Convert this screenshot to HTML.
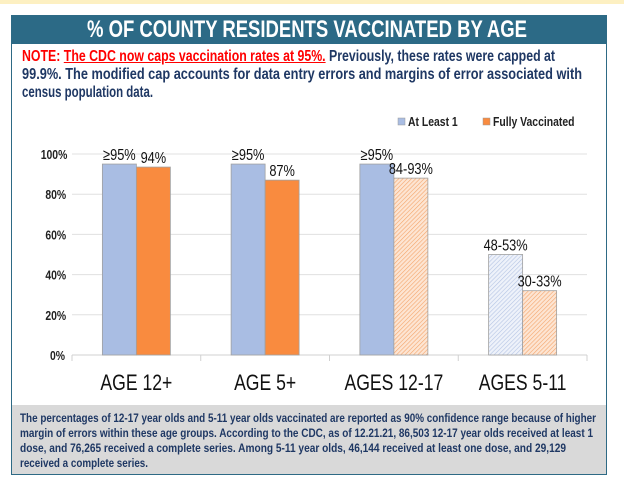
<!DOCTYPE html>
<html><head><meta charset="utf-8"><style>
body{margin:0;width:624px;height:488px;background:#fff;overflow:hidden;position:relative;font-family:"Liberation Sans",sans-serif}
#top{position:absolute;left:0;top:0;width:624px;height:4px;background:#fdf0c2}
#box{position:absolute;left:11px;top:15px;width:596px;height:460px;border:1px solid #2e6a85;box-sizing:border-box}
#title{position:absolute;left:0;top:0;width:594px;height:28px;background:#2c6a86;color:#fff;font-weight:bold;font-size:24px;line-height:28px}
.ln{position:absolute;white-space:nowrap;transform-origin:0 0}
#note{position:absolute;left:0;top:0;width:594px;font-size:16px;font-weight:bold;color:#1f3864}
#note .r{color:#ff0000}
#note u{color:#ff0000}
#foot{position:absolute;left:0;top:389px;width:594px;height:69px;background:#d9d9d9;font-size:12px;font-weight:bold;color:#1f3864}
svg{position:absolute;left:0;top:0}
</style></head><body>
<div id="top"></div>
<div id="box">
<div id="title"><span class="ln fit" data-w="440" style="left:75px;top:0">% OF COUNTY RESIDENTS VACCINATED BY AGE</span></div>
<div id="note">
<span class="ln fit" data-w="533" style="left:10px;top:32px"><span class="r">NOTE: </span><u>The CDC now caps vaccination rates at 95%.</u> Previously, these rates were capped at</span>
<span class="ln fit" data-w="560" style="left:10px;top:50px">99.9%. The modified cap accounts for data entry errors and margins of error associated with</span>
<span class="ln fit" data-w="131" style="left:10px;top:68px">census population data.</span>
</div>
<div id="foot">
<span class="ln fit" data-w="576" style="left:8px;top:6px">The percentages of 12-17 year olds and 5-11 year olds vaccinated are reported as 90% confidence range because of higher</span>
<span class="ln fit" data-w="573" style="left:8px;top:21px">margin of errors within these age groups. According to the CDC, as of 12.21.21, 86,503 12-17 year olds received at least 1</span>
<span class="ln fit" data-w="546" style="left:8px;top:36px">dose, and 76,265 received a complete series. Among 5-11 year olds, 46,144 received at least one dose, and 29,129</span>
<span class="ln fit" data-w="128" style="left:8px;top:51px">received a complete series.</span>
</div>
</div>
<svg id="chart" width="624" height="488">
<defs>
<pattern id="po" width="3" height="3" patternUnits="userSpaceOnUse" patternTransform="rotate(45)"><rect width="3" height="3" fill="#fde5d3"/><line x1="0" y1="0" x2="0" y2="3" stroke="#f4a46a" stroke-width="1.2"/></pattern>
<pattern id="pb" width="3" height="3" patternUnits="userSpaceOnUse" patternTransform="rotate(45)"><rect width="3" height="3" fill="#eef2fa"/><line x1="0" y1="0" x2="0" y2="3" stroke="#b4c4e4" stroke-width="1.2"/></pattern>
</defs>
<g id="g"></g>
</svg>
<script>
const categories=["AGE 12+","AGE 5+","AGES 12-17","AGES 5-11"];
const atLeast1=[95,95,95,50];
const fully=[93.5,87,88,32];
const labels1=["≥95%","≥95%","≥95%","48-53%"];
const labels2=["94%","87%","84-93%","30-33%"];
const hatched1=[false,false,false,true];
const hatched2=[false,false,true,true];
const ticks=[0,20,40,60,80,100];
document.querySelectorAll('.fit').forEach(e=>{const w=e.getBoundingClientRect().width;e.style.transform='scaleX('+(+e.dataset.w/w)+')';});
const NS="http://www.w3.org/2000/svg";
const g=document.getElementById('g');
const x0=72,x1=587,y0=355,y100=154;
const yS=v=>y0-(y0-y100)*v/100;
const bw=(x1-x0)/categories.length;
const cx=i=>x0+bw*(i+0.5);
const SQ=0.8;
function mk(t,a,txt){const e=document.createElementNS(NS,t);for(const k in a)e.setAttribute(k,a[k]);if(txt!=null)e.textContent=txt;g.appendChild(e);
 if(t==='text'){const L=e.getComputedTextLength();e.setAttribute('textLength',L*SQ);e.setAttribute('lengthAdjust','spacingAndGlyphs');}
 return e;}
const f='Liberation Sans, sans-serif';
ticks.forEach(t=>{
 const l=mk('line',{x1:x0,x2:x1,y1:yS(t),y2:yS(t),stroke:t?'#e0e0e0':'#d0d0d0','stroke-width':1});
 
 
 const tx=mk('text',{x:62,y:yS(t)+5,'font-size':13,'font-weight':'bold',fill:'#222','font-family':f},t+'%');
 tx.setAttribute('x',62-tx.getComputedTextLength()*SQ);
 
 
});
for(let i=0;i<=categories.length;i++){const l=mk('line',{x1:x0+bw*i,x2:x0+bw*i,y1:y0,y2:y0+6,stroke:'#d0d0d0'});
 
 }
const w=34;
categories.forEach((c,i)=>{
 const b1=mk('rect',{x:cx(i)-w,y:yS(atLeast1[i]),width:w,height:y0-yS(atLeast1[i]),fill:hatched1[i]?'url(#pb)':'#a9bde3',stroke:'#a0a0a0','stroke-width':0.8});
 
 
 const b2=mk('rect',{x:cx(i),y:yS(fully[i]),width:w,height:y0-yS(fully[i]),fill:hatched2[i]?'url(#po)':'#f98b3f',stroke:'#a0a0a0','stroke-width':0.8});
 
 
 const t1=mk('text',{x:cx(i)-w/2,y:yS(atLeast1[i])-4,'text-anchor':'middle','font-size':16,fill:'#111','font-family':f},labels1[i]);
 
 
 const t2=mk('text',{x:cx(i)+w/2,y:yS(fully[i])-4,'text-anchor':'middle','font-size':16,fill:'#111','font-family':f},labels2[i]);
 
 
 const xl=mk('text',{x:cx(i),y:390,'text-anchor':'middle','font-size':22,fill:'#111','font-family':f},c);
 
 
});
let r=mk('rect',{x:398,y:118,width:7,height:7,fill:'#a9bde3',stroke:'#999','stroke-width':0.5});


let t=mk('text',{x:408,y:126,'font-size':13,'font-weight':'bold',fill:'#222','font-family':f},'At Least 1');


r=mk('rect',{x:483,y:118,width:7,height:7,fill:'#f98b3f',stroke:'#999','stroke-width':0.5});


t=mk('text',{x:493,y:126,'font-size':13,'font-weight':'bold',fill:'#222','font-family':f},'Fully Vaccinated');


</script>
</body></html>
